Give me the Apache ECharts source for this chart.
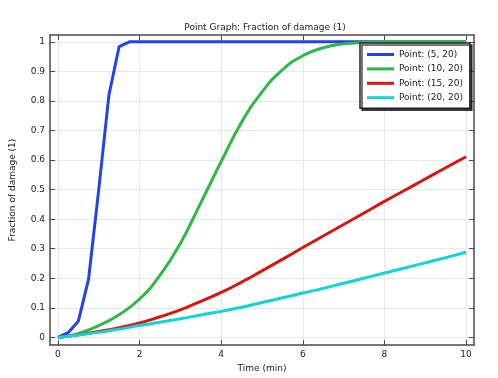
<!DOCTYPE html>
<html>
<head>
<meta charset="utf-8">
<script src="https://cdn.jsdelivr.net/npm/echarts@6/dist/echarts.min.js"></script>
<style>
  html, body { margin: 0; padding: 0; background: #fff; }
  #chart { width: 498px; height: 378px; }
</style>
</head>
<body>
<div id="chart"></div>
<script>
// tick labels
var xTicks = [0, 2, 4, 6, 8, 10];
var yTicks = [0, 0.1, 0.2, 0.3, 0.4, 0.5, 0.6, 0.7, 0.8, 0.9, 1];

// series names
var names = ["Point: (5, 20)", "Point: (10, 20)", "Point: (15, 20)", "Point: (20, 20)"];

// point (5, 20) is sampled finer
var timeBlue = [0, 0.25, 0.5, 0.75, 1, 1.25, 1.5, 1.75, 2, 10];
var damageBlue = [0, 0.016, 0.055, 0.196, 0.5, 0.82, 0.984, 1.0, 1.0, 1.0];

var time = [0, 0.5, 1, 1.5, 2, 2.5, 3, 3.5, 4, 4.5, 5, 5.5, 6, 6.5, 7, 7.5, 8, 8.5, 9, 9.5, 10];
var damageGreen = [0, 0.013, 0.04, 0.077, 0.13, 0.21, 0.318, 0.455, 0.595, 0.728, 0.83, 0.905, 0.953, 0.98, 0.993, 0.998, 1, 1, 1, 1, 1];
var damageRed = [0, 0.009, 0.02, 0.033, 0.049, 0.07, 0.093, 0.122, 0.152, 0.187, 0.225, 0.264, 0.304, 0.343, 0.382, 0.421, 0.46, 0.498, 0.536, 0.574, 0.611];
var damageCyan = [0, 0.008, 0.017, 0.028, 0.04, 0.051, 0.063, 0.076, 0.088, 0.102, 0.118, 0.134, 0.15, 0.166, 0.183, 0.2, 0.218, 0.235, 0.252, 0.27, 0.288];

var colors = ["#2441ee", "#2fb845", "#d91414", "#14d2d6"];

function pairs(xs, ys) {
	return xs.map(function (x, i) { return [x, ys[i]]; });
}

var myChart = echarts.init(document.getElementById("chart"));
var font = "DejaVu Sans";
var frameColor = "#4a4a4a";

// frame axes (all four sides, ticks pointing inward)
function frameX(pos, withLabel) {
	return {
		type: "value",
		position: pos,
		min: -0.194,
		max: 10.194,
		axisLine: { onZero: false, lineStyle: { color: frameColor, width: 1.5 } },
		axisTick: { inside: true, length: 5, customValues: xTicks, lineStyle: { color: frameColor } },
		axisLabel: { show: withLabel, customValues: xTicks, margin: 5, fontFamily: font, fontSize: 9, color: "#222" },
		splitLine: { show: withLabel, lineStyle: { color: "#e8e8e8", width: 1 } },
	};
}
function frameY(pos, withLabel) {
	return {
		type: "value",
		position: pos,
		min: -0.026,
		max: 1.023,
		axisLine: { show: true, onZero: false, lineStyle: { color: frameColor, width: 1.5 } },
		axisTick: { show: true, inside: true, length: 5, customValues: yTicks, lineStyle: { color: frameColor } },
		axisLabel: { show: withLabel, customValues: yTicks, margin: 5, fontFamily: font, fontSize: 9, color: "#222" },
		splitLine: { show: withLabel, lineStyle: { color: "#e8e8e8", width: 1 } },
	};
}

var xBottom = frameX("bottom", true);
xBottom.name = "Time (min)";
xBottom.nameLocation = "middle";
xBottom.nameGap = 12;
xBottom.nameTextStyle = { fontFamily: font, fontSize: 9, color: "#222" };

var yLeft = frameY("left", true);
yLeft.name = "Fraction of damage (1)";
yLeft.nameLocation = "middle";
yLeft.nameGap = 33;
yLeft.nameTextStyle = { fontFamily: font, fontSize: 9, color: "#222" };

var option = {
	animation: false,
	color: colors,
	title: {
		text: "Point Graph: Fraction of damage (1)",
		left: 260,
		textAlign: "center",
		top: 18,
		textStyle: { fontFamily: font, fontSize: 9, fontWeight: "normal", color: "#222" },
	},
	grid: { left: 46, right: 24, top: 35, bottom: 32.5, containLabel: false },
	legend: {
		orient: "vertical",
		left: 360,
		top: 43,
		padding: [6, 7, 5, 7],
		icon: "rect",
		itemWidth: 27,
		itemHeight: 3,
		itemGap: 3.4,
		backgroundColor: "#fff",
		borderColor: "#222",
		borderWidth: 1.5,
		shadowColor: "rgba(0,0,0,0.7)",
		shadowOffsetX: 2,
		shadowOffsetY: 2,
		shadowBlur: 0,
		textStyle: { fontFamily: font, fontSize: 9, lineHeight: 11, color: "#222" },
		data: names,
	},
	xAxis: [xBottom, frameX("top", false)],
	yAxis: [yLeft, frameY("right", false)],
	series: [
		{
			name: names[0],
			type: "line",
			symbol: "none",
			lineStyle: { width: 3 },
			data: pairs(timeBlue, damageBlue),
		},
		{
			name: names[1],
			type: "line",
			symbol: "none",
			smooth: 0.5,
			lineStyle: { width: 3 },
			data: pairs(time, damageGreen),
		},
		{
			name: names[2],
			type: "line",
			symbol: "none",
			smooth: 0.5,
			lineStyle: { width: 3 },
			data: pairs(time, damageRed),
		},
		{
			name: names[3],
			type: "line",
			symbol: "none",
			smooth: 0.5,
			lineStyle: { width: 3 },
			data: pairs(time, damageCyan),
		},
	],
};
myChart.setOption(option);
</script>
</body>
</html>
